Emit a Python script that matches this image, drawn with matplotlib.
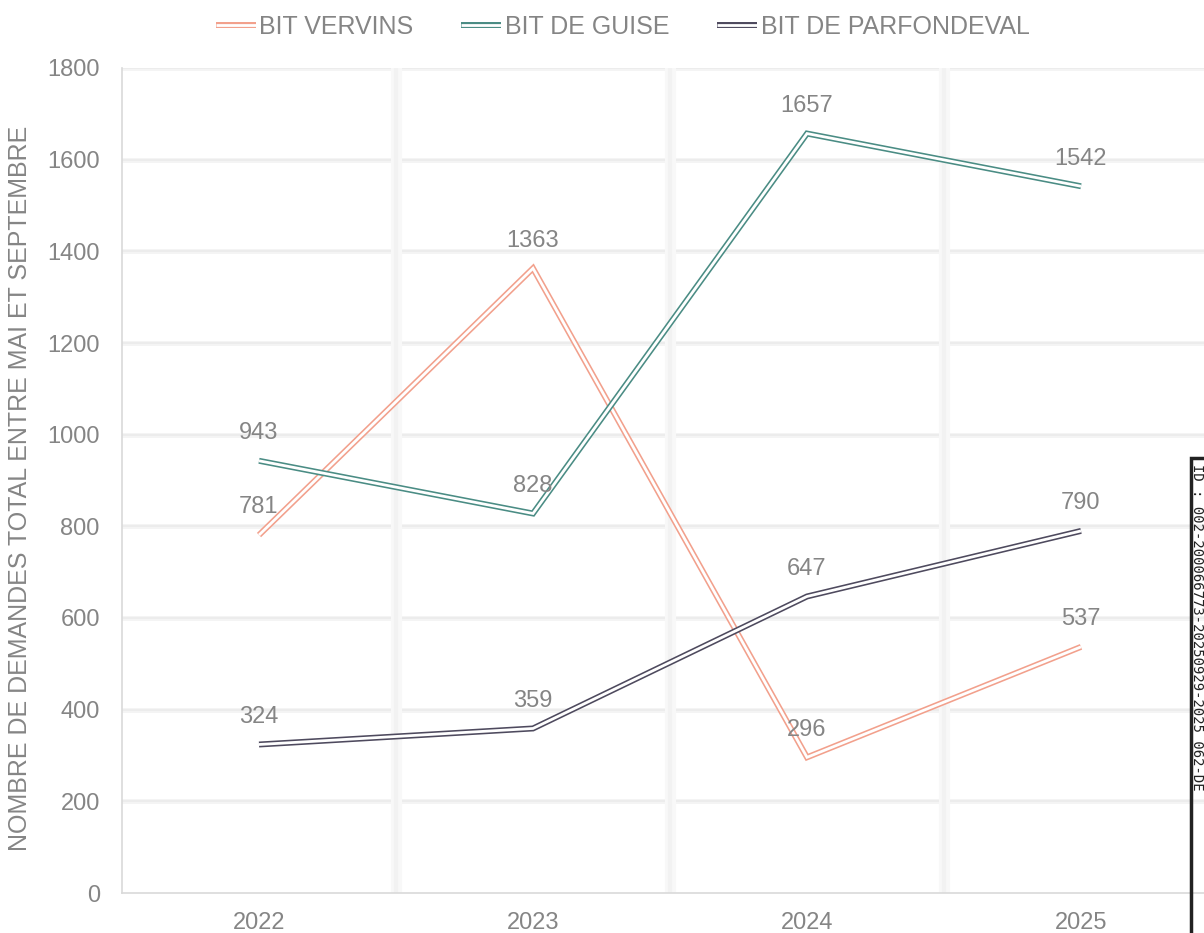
import matplotlib
matplotlib.use("Agg")
import matplotlib.pyplot as plt
import matplotlib.patheffects as pe
from matplotlib.patches import Rectangle

plt.rcParams['font.family'] = ['Liberation Sans', 'DejaVu Sans']

years = ['2022', '2023', '2024', '2025']
vervins = [781, 1363, 296, 537]
guise = [943, 828, 1657, 1542]
parfondeval = [324, 359, 647, 790]

series = [
    ('BIT VERVINS', vervins, '#f2a08c'),
    ('BIT DE GUISE', guise, '#4a8c84'),
    ('BIT DE PARFONDEVAL', parfondeval, '#4e4a5e'),
]

txt_col = '#858585'

fig = plt.figure(figsize=(12.04, 9.33), dpi=100)
ax = fig.add_axes([122 / 1204, 1 - 893 / 933, 1096 / 1204, 825 / 933])

x = list(range(len(years)))

# soft gridlines (blurry in the original)
for yv in range(200, 1801, 200):
    ax.axhline(yv, color='#f4f4f4', lw=3.5, zorder=0)
    ax.axhline(yv, color='#ebebeb', lw=1.2, zorder=0)
for xv in [0.5, 1.5, 2.5]:
    ax.axvline(xv, color='#f8f8f8', lw=8, zorder=0)
    ax.axvline(xv, color='#f2f2f2', lw=3, zorder=0)

for name, vals, col in series:
    ax.plot(x, vals, color=col, lw=4.3, label=name, solid_joinstyle='miter',
            solid_capstyle='butt',
            path_effects=[pe.Normal(), pe.Stroke(linewidth=2.0, foreground='white')],
            zorder=3)
    for xi, v in zip(x, vals):
        ax.annotate(str(v), (xi, v), xytext=(0, 12), textcoords='offset points',
                    ha='center', va='bottom', fontsize=17, color=txt_col, zorder=4)

ax.set_xlim(-0.5, 3.5)
ax.set_ylim(0, 1800)
ax.set_yticks(range(0, 1801, 200))
ax.set_xticks(x)
ax.set_xticklabels(years)
ax.tick_params(axis='both', length=0, labelsize=17, labelcolor=txt_col)
ax.tick_params(axis='y', pad=16)
ax.tick_params(axis='x', pad=14)

for s in ['top', 'right']:
    ax.spines[s].set_visible(False)
for s in ['left', 'bottom']:
    ax.spines[s].set_color('#d9d9d9')
    ax.spines[s].set_linewidth(1.2)

ax.set_ylabel('NOMBRE DE DEMANDES TOTAL ENTRE MAI ET SEPTEMBRE', fontsize=18,
              color=txt_col, labelpad=6)
ax.yaxis.set_label_coords(-0.082, 0.49)

fig.legend(loc='upper center', bbox_to_anchor=(0.517, 1.008), ncol=3,
           frameon=False, fontsize=18, labelcolor=txt_col, handlelength=1.6,
           handletextpad=0.15, columnspacing=1.9)

# stamp box cut by the right edge
fig.patches.append(Rectangle((1191 / 1204, -0.05), 0.1, 1 - 458 / 933 + 0.05,
                             transform=fig.transFigure, fill=False,
                             edgecolor='#222222', lw=2.5))
fig.text(1197.5 / 1204, 1 - 464 / 933, 'ID : 002-200066773-20250929-2025_062-DE',
         rotation=-90, ha='center', va='top', fontsize=10,
         family='DejaVu Sans Mono', color='#222222')

fig.savefig('out.png', dpi=100)
